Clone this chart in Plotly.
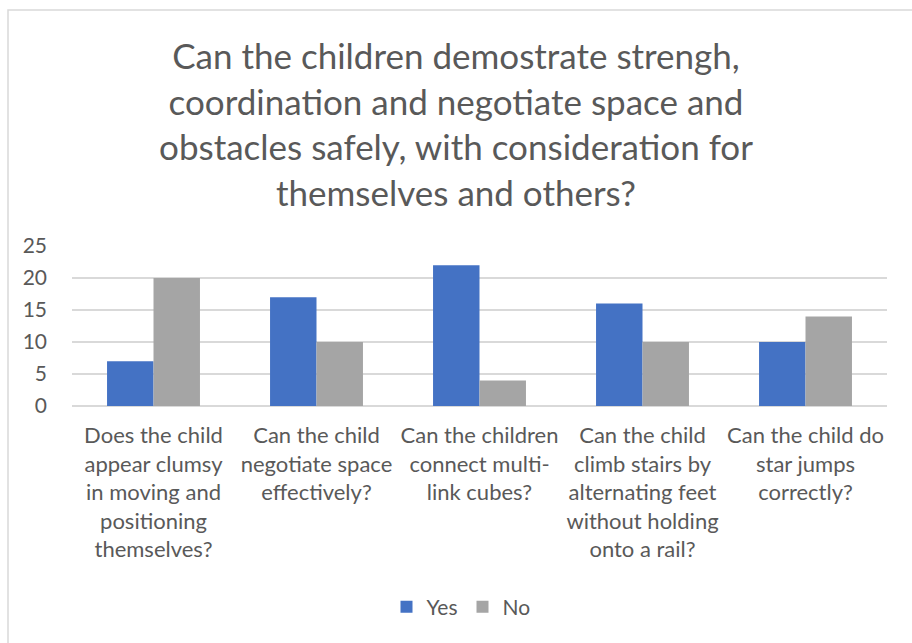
import plotly.graph_objects as go

categories = [
    "Does the child<br>appear clumsy<br>in moving and<br>positioning<br>themselves?",
    "Can the child<br>negotiate space<br>effectively?",
    "Can the children<br>connect multi-<br>link cubes?",
    "Can the child<br>climb stairs by<br>alternating feet<br>without holding<br>onto a rail?",
    "Can the child do<br>star jumps<br>correctly?",
]
yes_values = [7, 17, 22, 16, 10]
no_values = [20, 10, 4, 10, 14]
y_ticks = [0, 5, 10, 15, 20, 25]

title_text = ("Can the children demostrate strengh,<br>coordination and negotiate space and<br>"
              "obstacles safely, with consideration for<br>themselves and others?")

FONT = "Lato"
TEXT_GREY = "#595959"

fig = go.Figure()
fig.add_trace(go.Bar(name="Yes", x=categories, y=yes_values,
                     marker=dict(color="#4472C4", line=dict(width=0))))
fig.add_trace(go.Bar(name="No", x=categories, y=no_values,
                     marker=dict(color="#A5A5A5", line=dict(width=0))))

W, H = 912, 643
ml, mr, mt, mb = 72, 25, 246, 237
pw, ph = W - ml - mr, H - mt - mb

def px_x(px):
    return (px - ml) / pw

def px_y(py):
    return (H - mb - py) / ph

fig.update_layout(
    width=W, height=H,
    margin=dict(l=ml, r=mr, t=mt, b=mb),
    paper_bgcolor="white", plot_bgcolor="white",
    font=dict(family=FONT, color=TEXT_GREY, size=22),
    barmode="group", bargap=0.43, bargroupgap=0,
    title=dict(text=title_text, x=0.5, xanchor="center", y=1 - 69 / H, yanchor="top",
               font=dict(family=FONT, size=35, color=TEXT_GREY)),
    xaxis=dict(showgrid=False, showline=False, ticks="", tickfont=dict(size=22),
               ticklabelstandoff=14),
    yaxis=dict(range=[0, 25], tickvals=y_ticks, showgrid=True, gridcolor="#D9D9D9",
               gridwidth=1.5, zeroline=True, zerolinecolor="#D9D9D9", zerolinewidth=1.5,
               tickfont=dict(size=21), ticks="", ticklabelstandoff=24),
    legend=dict(orientation="h", x=px_x(461), xanchor="center", y=px_y(607), yanchor="middle",
                font=dict(size=21), traceorder="normal", itemwidth=30),
    shapes=[dict(type="rect", xref="paper", yref="paper",
                 x0=px_x(8), x1=px_x(916), y0=px_y(650), y1=px_y(10),
                 line=dict(color="#D9D9D9", width=1.5), fillcolor="rgba(0,0,0,0)",
                 layer="below")],
)

fig.write_html("out.html")
